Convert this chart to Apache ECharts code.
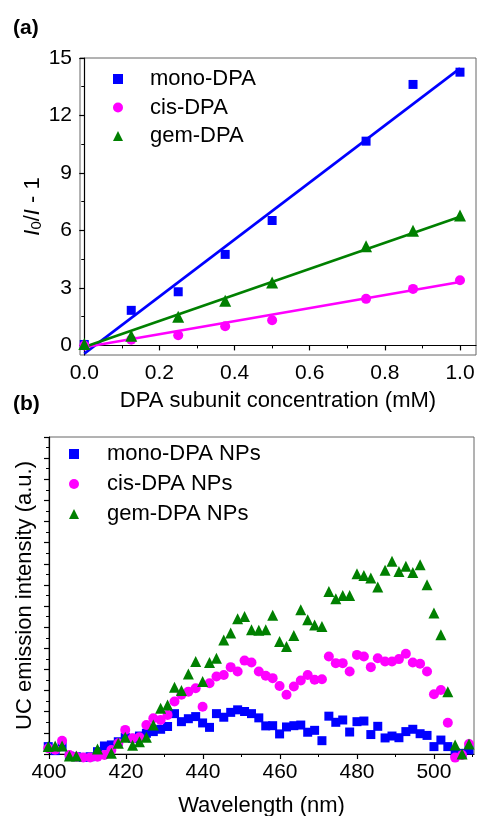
<!DOCTYPE html>
<html>
<head>
<meta charset="utf-8">
<script src="https://cdn.jsdelivr.net/npm/echarts@6/dist/echarts.min.js"></script>
<style>
  html, body { margin: 0; padding: 0; background: #fff; }
  #chart { width: 477px; height: 816px; }
</style>
</head>
<body>
<div id="chart"></div>
<script>
// panel (a): Stern-Volmer data
const concX = [0, 0.125, 0.25, 0.375, 0.5, 0.75, 0.875, 1.0];
const monoQ = [0.05, 1.83, 2.80, 4.75, 6.52, 10.66, 13.62, 14.26];
const cisQ = [0.0, 0.30, 0.53, 1.0, 1.31, 2.43, 2.95, 3.40];
const gemQ = [0.08, 0.50, 1.50, 2.33, 3.29, 5.18, 5.98, 6.78];
// fitted lines, read at both ends
const fitX = [0, 1];
const monoFit = [-0.43, 14.46];
const cisFit = [-0.1, 3.31];
const gemFit = [-0.08, 6.71];

const concTicks = [0, 0.2, 0.4, 0.6, 0.8, 1.0];
const concMinor = [0.1, 0.3, 0.5, 0.7, 0.9];
const qTicks = [0, 3, 6, 9, 12, 15];
const qMinor = [1.5, 4.5, 7.5, 10.5, 13.5];

// panel (b): UC emission spectra
const wl = [399.8, 401.6, 403.4, 405.3, 407.1, 408.9, 410.7, 412.6, 414.4, 416.2,
  418.0, 419.8, 421.7, 423.5, 425.3, 427.1, 429.0, 430.8, 432.6, 434.4,
  436.2, 438.1, 439.9, 441.7, 443.5, 445.4, 447.2, 449.0, 450.8, 452.6,
  454.5, 456.3, 458.1, 459.9, 461.7, 463.6, 465.4, 467.2, 469.0, 470.9,
  472.7, 474.5, 476.3, 478.1, 480.0, 481.8, 483.6, 485.4, 487.3, 489.1,
  490.9, 492.7, 494.5, 496.4, 498.2, 500.0, 501.8, 503.6, 505.5, 507.3, 509.1];
const monoUC = [0.35, 0.16, 0.35, -0.1, -0.13, -0.16, -0.13, 0.11, 0.38, 0.43,
  0.58, 0.79, 0.74, 0.85, 0.98, 1.06, 1.17, 1.30, 1.91, 1.53,
  1.67, 1.77, 1.47, 1.26, 1.91, 1.74, 1.97, 2.09, 2.01, 1.91,
  1.71, 1.33, 1.34, 0.95, 1.28, 1.34, 1.37, 1.03, 1.12, 0.63,
  1.79, 1.50, 1.61, 1.04, 1.53, 1.56, 0.92, 1.31, 0.76, 0.85,
  0.77, 1.06, 1.17, 0.96, 0.88, 0.35, 0.66, 0.35, 0.06, 0.03, 0.19];
const cisUC = [0.27, 0.2, 0.63, -0.05, -0.13, -0.16, -0.16, -0.13, -0.05, 0.19,
  0.51, 1.14, 0.74, 0.79, 1.37, 1.69, 1.61, 1.85, 2.48, 2.80,
  2.95, 3.11, 2.24, 3.35, 3.67, 3.74, 4.11, 3.90, 4.42, 4.33,
  3.90, 3.70, 3.59, 3.22, 2.80, 3.19, 3.48, 3.74, 3.51, 3.54,
  4.61, 4.30, 4.30, 3.90, 4.69, 4.61, 4.11, 4.53, 4.38, 4.38,
  4.49, 4.74, 4.33, 4.27, 3.90, 2.83, 3.03, 1.48, -0.17, -0.05, 0.47];
const gemUC = [0.35, 0.38, 0.38, -0.1, -0.1, null, null, 0.24, null, 0.03,
  0.51, 0.79, 0.41, 0.58, 0.79, 1.37, 2.16, 2.32, 3.16, 3.0,
  3.79, 4.38, 3.43, 4.33, 4.53, 5.40, 5.72, 6.40, 6.51, 5.88,
  5.85, 5.88, 6.56, 5.32, 5.09, 5.61, 6.82, 6.35, 6.11, 6.03,
  7.69, 7.35, 7.50, 7.50, 8.53, 8.45, 8.33, 7.90, 8.69, 9.12,
  8.64, 8.88, 8.59, 8.96, 8.01, 6.67, 5.64, 2.95, 0.43, 0.0, 0.47];

const wlTicks = [400, 420, 440, 460, 480, 500];
const wlMinor = [410, 430, 450, 470, 490, 510];

const FONT = "'Liberation Sans', Arial, sans-serif";
const BLUE = "#0000FF", PINK = "#FF00FF", GREEN = "#008000";

const pairs = (xs, ys) => xs.map((x, i) => [x, ys[i]]).filter(p => p[1] !== null);

const axisLineStyle = { show: true, lineStyle: { color: "#000", width: 1.2 } };

function majorAxis(extra) {
  return Object.assign({
    type: "value",
    axisLine: axisLineStyle,
    splitLine: { show: false },
    nameTextStyle: { fontFamily: FONT, fontSize: 22, color: "#000" },
    nameLocation: "middle",
    nameMoveOverlap: false,
  }, extra);
}

function minorAxis(gridIndex, min, max, ticks, position) {
  return {
    type: "value", gridIndex, min, max, position,
    axisLine: { show: false },
    axisTick: { show: true, inside: false, length: 3, customValues: ticks, lineStyle: { color: "#000", width: 1 } },
    axisLabel: { show: false },
    splitLine: { show: false },
  };
}

const chart = echarts.init(document.getElementById("chart"), null, { renderer: "canvas" });

const option = {
  animation: false,
  backgroundColor: "#fff",
  textStyle: { fontFamily: FONT },
  title: [
    { text: "(a)", left: 8, top: 13, textStyle: { fontFamily: FONT, fontSize: 21, fontWeight: "bold", color: "#000" } },
    { text: "(b)", left: 8, top: 389, textStyle: { fontFamily: FONT, fontSize: 21, fontWeight: "bold", color: "#000" } },
  ],
  grid: [
    { left: 80, right: 1, top: 58, height: 297, show: true, borderColor: "#666", borderWidth: 1,
      outerBoundsMode: "none" },
    { left: 49, right: 3, top: 437, bottom: 62, show: true, borderColor: "#666", borderWidth: 1,
      outerBoundsMode: "none" },
  ],
  legend: [
    {
      left: 113, top: 68, orient: "vertical", itemWidth: 10, itemHeight: 10, itemGap: 6.5, padding: 0,
      selectedMode: false,
      textStyle: { fontFamily: FONT, fontSize: 22, lineHeight: 22, color: "#000", padding: [0, 0, 0, 22] },
      data: [
        { name: "mono-DPA", icon: "rect" },
        { name: "cis-DPA", icon: "circle" },
        { name: "gem-DPA", icon: "triangle" },
      ],
    },
    {
      left: 69, top: 443, orient: "vertical", itemWidth: 10, itemHeight: 10, itemGap: 8, padding: 0,
      selectedMode: false,
      textStyle: { fontFamily: FONT, fontSize: 22, lineHeight: 22, color: "#000", padding: [0, 0, 0, 23] },
      data: [
        { name: "mono-DPA NPs", icon: "rect" },
        { name: "cis-DPA NPs", icon: "circle" },
        { name: "gem-DPA NPs", icon: "triangle" },
      ],
    },
  ],
  xAxis: [
    majorAxis({
      gridIndex: 0, min: -0.0114, max: 1.0426, position: "bottom",
      axisTick: { show: true, length: 5, customValues: concTicks, lineStyle: { color: "#000", width: 1.2 } },
      axisLabel: { customValues: concTicks, margin: 8, fontFamily: FONT, fontSize: 21, color: "#000",
        formatter: v => v.toFixed(1) },
      name: "DPA subunit concentration (mM)", nameGap: 35,
    }),
    minorAxis(0, -0.0114, 1.0426, concMinor, "bottom"),
    majorAxis({
      gridIndex: 1, min: 400, max: 510.4, position: "bottom",
      axisTick: { show: true, length: 5, customValues: wlTicks, lineStyle: { color: "#000", width: 1.2 } },
      axisLabel: { customValues: wlTicks, margin: 8, fontFamily: FONT, fontSize: 21, color: "#000" },
      name: "Wavelength (nm)", nameGap: 41,
    }),
    minorAxis(1, 400, 510.4, wlMinor, "bottom"),
  ],
  yAxis: [
    majorAxis({
      gridIndex: 0, min: -0.5, max: 15, position: "left",
      axisTick: { show: true, length: 5, customValues: qTicks, lineStyle: { color: "#000", width: 1.2 } },
      axisLabel: { customValues: qTicks, margin: 8, fontFamily: FONT, fontSize: 21, color: "#000" },
      name: "{i|I}{s|0}{n|/}{i|I}{n| - 1}", nameGap: 36, nameRotate: 90,
      nameTextStyle: {
        fontFamily: FONT, fontSize: 22, color: "#000",
        rich: {
          i: { fontFamily: FONT, fontStyle: "italic", fontSize: 22, lineHeight: 22, verticalAlign: "top", color: "#000" },
          n: { fontFamily: FONT, fontSize: 22, lineHeight: 22, verticalAlign: "top", color: "#000" },
          s: { fontFamily: FONT, fontSize: 15, lineHeight: 10, verticalAlign: "bottom", color: "#000" },
        },
      },
    }),
    minorAxis(0, -0.5, 15, qMinor, "left"),
    majorAxis({
      gridIndex: 1, min: 0, max: 15, interval: 1, position: "left",
      axisTick: { show: true, length: 5, lineStyle: { color: "#000", width: 1.2 } },
      minorTick: { show: true, splitNumber: 2, length: 3, lineStyle: { color: "#000", width: 1 } },
      axisLabel: { show: false },
      name: "UC emission intensity (a.u.)", nameGap: 13, nameRotate: 90,
    }),
  ],
  series: [
    { name: "mono-fit", type: "line", xAxisIndex: 0, yAxisIndex: 0, data: pairs(fitX, monoFit),
      showSymbol: false, lineStyle: { color: BLUE, width: 2.6 }, z: 2 },
    { name: "cis-fit", type: "line", xAxisIndex: 0, yAxisIndex: 0, data: pairs(fitX, cisFit),
      showSymbol: false, lineStyle: { color: PINK, width: 2.6 }, z: 2 },
    { name: "gem-fit", type: "line", xAxisIndex: 0, yAxisIndex: 0, data: pairs(fitX, gemFit),
      showSymbol: false, lineStyle: { color: GREEN, width: 2.6 }, z: 2 },
    { name: "mono-DPA", type: "scatter", xAxisIndex: 0, yAxisIndex: 0, data: pairs(concX, monoQ),
      symbol: "rect", symbolSize: 9, itemStyle: { color: BLUE, opacity: 1 }, clip: false, z: 3 },
    { name: "cis-DPA", type: "scatter", xAxisIndex: 0, yAxisIndex: 0, data: pairs(concX, cisQ),
      symbol: "circle", symbolSize: 10, itemStyle: { color: PINK, opacity: 1 }, clip: false, z: 3 },
    { name: "gem-DPA", type: "scatter", xAxisIndex: 0, yAxisIndex: 0, data: pairs(concX, gemQ),
      symbol: "triangle", symbolSize: 12, itemStyle: { color: GREEN, opacity: 1 }, clip: false, z: 3 },
    { name: "mono-DPA NPs", type: "scatter", xAxisIndex: 2, yAxisIndex: 2, data: pairs(wl, monoUC),
      symbol: "rect", symbolSize: 9, itemStyle: { color: BLUE, opacity: 1 }, clip: false, z: 3 },
    { name: "cis-DPA NPs", type: "scatter", xAxisIndex: 2, yAxisIndex: 2, data: pairs(wl, cisUC),
      symbol: "circle", symbolSize: 10, itemStyle: { color: PINK, opacity: 1 }, clip: false, z: 4 },
    { name: "gem-DPA NPs", type: "scatter", xAxisIndex: 2, yAxisIndex: 2, data: pairs(wl, gemUC),
      symbol: "triangle", symbolSize: 11, itemStyle: { color: GREEN, opacity: 1 }, clip: false, z: 5 },
  ],
};

chart.setOption(option);
</script>
</body>
</html>
